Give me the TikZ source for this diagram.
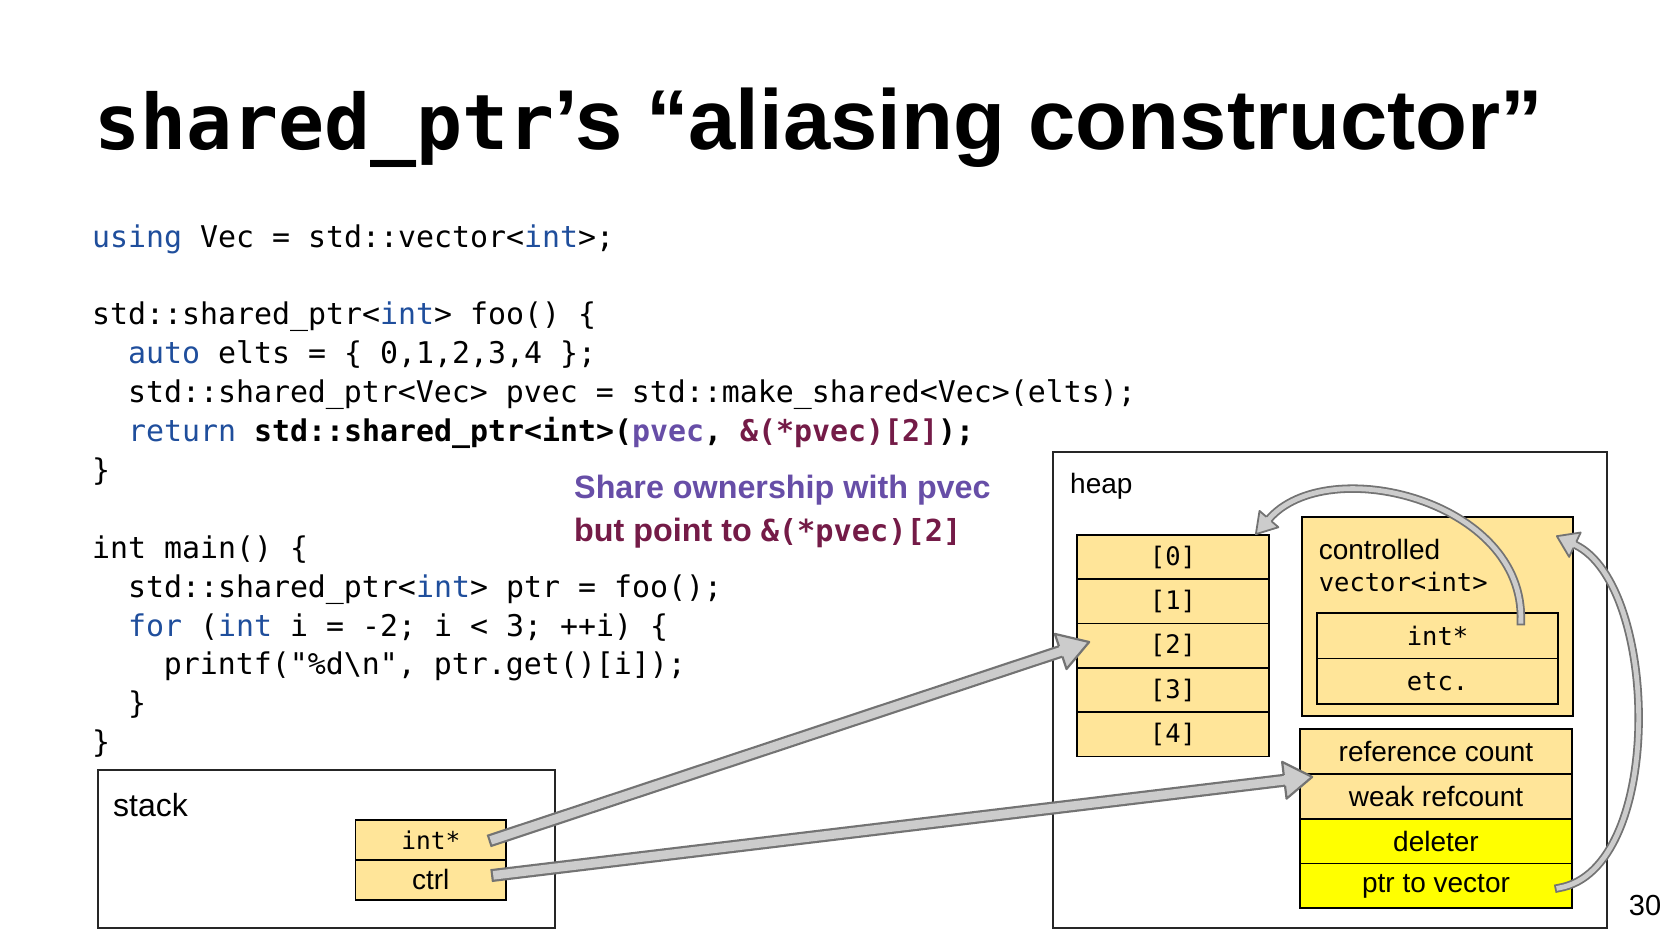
\documentclass[tikz,border=0pt]{standalone}
\usepackage{fontspec}
\setmainfont{Liberation Sans}
\newfontfamily\codefont{DejaVu Sans Mono}
\usetikzlibrary{calc}
\definecolor{kwblue}{HTML}{1F4E9C}
\definecolor{annpurple}{HTML}{674EA7}
\definecolor{annmaroon}{HTML}{741B47}
\definecolor{cellfill}{HTML}{FFE599}
\definecolor{brightyellow}{HTML}{FFFF00}
\definecolor{arrowfill}{HTML}{CCCCCC}
\definecolor{arrowedge}{HTML}{737373}
\newcommand\fsz[1]{\fontsize{#1}{#1}\selectfont}
\newcommand\kw[1]{{\color{kwblue}#1}}
\newcommand\blockhead[5]{%
  \path ($(#2)!#3!90:(#1)$) coordinate (bhWa)
        ($(#2)!#3!-90:(#1)$) coordinate (bhWb)
        ($(#2)!#4!90:(#1)$) coordinate (bhEa)
        ($(#2)!#4!-90:(#1)$) coordinate (bhEb);
  \fill[arrowfill] (bhEa) -- (bhWa) -- (#1) -- (bhWb) -- (bhEb) -- cycle;
  \draw[arrowedge, line width=#5, line join=round] (bhEa) -- (bhWa) -- (#1) -- (bhWb) -- (bhEb);
}
\begin{document}
\begin{tikzpicture}[x=1pt,y=-1pt,
  codeline/.style={anchor=base west, inner sep=0pt, font=\codefont\fsz{29.9}},
  label/.style={anchor=base west, inner sep=0pt},
  memcell/.style={draw=black, line width=1.7pt, fill=cellfill, inner sep=0pt},
  outerbox/.style={draw=black!85, line width=1.5pt},
  bigshaft/.style={draw=arrowedge, double=arrowfill, line width=2.2pt, double distance=8.6pt, line cap=rect},
  thinshaft/.style={draw=arrowedge, double=arrowfill, line width=1.8pt, double distance=4.8pt, line cap=rect}]
\useasboundingbox (0,0) rectangle (1672,938);

% title
\node[label] (title) at (94,149) {{\codefont\bfseries\fsz{76.5}shared\_ptr}{\bfseries\fsz{85}’s “aliasing constructor”}};

% code
\node[codeline] (c0) at (92,247) {\kw{using} Vec = std::vector<\kw{int}>;};
\node[codeline] (c2) at (92,324.8) {std::shared\_ptr<\kw{int}> foo() \{};
\node[codeline] (c3) at (127.8,363.7) {\kw{auto} elts = \{ 0,1,2,3,4 \};};
\node[codeline] (c4) at (127.8,402.6) {std::shared\_ptr<Vec> pvec = std::make\_shared<Vec>(elts);};
\node[codeline] (c5) at (127.8,441.5) {\kw{return} \textbf{std::shared\_ptr<int>(}{\bfseries\color{annpurple}pvec}\textbf{, }{\bfseries\color{annmaroon}\&(*pvec)[2]}\textbf{);}};
\node[codeline] (c6) at (92,480.4) {\}};
\node[codeline] (c8) at (92,558.2) {int main() \{};
\node[codeline] (c9) at (127.8,597.1) {std::shared\_ptr<\kw{int}> ptr = foo();};
\node[codeline] (c10) at (127.8,636) {\kw{for} (\kw{int} i = -2; i < 3; ++i) \{};
\node[codeline] (c11) at (163.6,674.9) {printf("\%d\textbackslash n", ptr.get()[i]);};
\node[codeline] (c12) at (127.8,713.8) {\}};
\node[codeline] (c13) at (92,752.7) {\}};

% annotation
\node[label, font=\bfseries\fsz{32.3}, text=annpurple] (ann1) at (574,498) {Share ownership with pvec};
\node[label, font=\bfseries\fsz{32.3}, text=annmaroon] (ann2) at (574,541.7) {but point to {\codefont\fsz{30.3}\&(*pvec)[2]}};

% stack
\draw[outerbox] (98,770) rectangle (555,928);
\node[label, font=\fsz{32}] (stacklbl) at (113,816.7) {stack};
\node[memcell, minimum width=150.5pt, minimum height=39.8pt] (sint) at (430.75,840) {\codefont\fsz{24.5}int*};
\node[memcell, minimum width=150.5pt, minimum height=39.8pt] (sctrl) at (430.75,879.8) {\fsz{28}ctrl};

% heap
\draw[outerbox] (1053,452) rectangle (1607,928);
\node[label, font=\fsz{28}] (heaplbl) at (1070,493) {heap};

\node[memcell, minimum width=192pt, minimum height=44.3pt] (a0) at (1173,557.15) {\codefont\fsz{25.5}[0]};
\node[memcell, minimum width=192pt, minimum height=44.3pt] (a1) at (1173,601.45) {\codefont\fsz{25.5}[1]};
\node[memcell, minimum width=192pt, minimum height=44.3pt] (a2) at (1173,645.75) {\codefont\fsz{25.5}[2]};
\node[memcell, minimum width=192pt, minimum height=44.3pt] (a3) at (1173,690.05) {\codefont\fsz{25.5}[3]};
\node[memcell, minimum width=192pt, minimum height=44.3pt] (a4) at (1173,734.35) {\codefont\fsz{25.5}[4]};

\node[memcell, minimum width=271pt, minimum height=199pt] (ctl) at (1437.5,616.5) {};
\node[label, font=\fsz{28}] (ctltxt) at (1318.6,559) {controlled};
\node[label, font=\codefont\fsz{25.5}] (ctltxt2) at (1318.6,591.7) {vector<int>};
\node[memcell, minimum width=241pt, minimum height=45.5pt] (vint) at (1437.5,635.75) {\codefont\fsz{25.5}int*};
\node[memcell, minimum width=241pt, minimum height=45.5pt] (vetc) at (1437.5,681.25) {\codefont\fsz{25.5}etc.};

\node[memcell, minimum width=272pt, minimum height=44.75pt] (cb1) at (1436,751.7) {\fsz{28}reference count};
\node[memcell, minimum width=272pt, minimum height=44.75pt] (cb2) at (1436,796.45) {\fsz{28}weak refcount};
\node[memcell, fill=brightyellow, minimum width=272pt, minimum height=44.75pt] (cb3) at (1436,841.2) {\fsz{28}deleter};
\node[memcell, fill=brightyellow, minimum width=272pt, minimum height=44.75pt] (cb4) at (1436,885.95) {\fsz{28}ptr to vector};

\node[anchor=base, inner sep=0pt, font=\fsz{29}] (pagenum) at (1645,915) {30};

% arrow 1: stack int* -> [2]
\coordinate (t1) at ($(sint.east)+(-12,-1)$);
\coordinate (p1) at ($(a2.west)+(13,-3.75)$);
\coordinate (b1) at ($(p1)!30pt!(t1)$);
\draw[bigshaft] (t1) -- (b1);
\blockhead{p1}{b1}{18.5pt}{5.4pt}{2.2pt}

% arrow 2: ctrl -> control block
\coordinate (t2) at ($(sctrl.east)+(-9.3,-5)$);
\coordinate (p2) at ($(cb2.north west)+(13,3.7)$);
\coordinate (b2) at ($(p2)!28pt!(t2)$);
\draw[bigshaft] (t2) -- (b2);
\blockhead{p2}{b2}{18.5pt}{5.4pt}{2.2pt}

% arrow 3: vector int* -> array
\coordinate (t3) at ($(vint.north east)+(-38,9)$);
\coordinate (c3a) at (1525,500);
\coordinate (c3b) at (1327,452);
\coordinate (p3) at ($(a0.north east)+(-14,0)$);
\coordinate (b3) at ($(p3)!20pt!(c3b)$);
\draw[thinshaft] (t3) .. controls (c3a) and (c3b) .. (b3);
\blockhead{p3}{b3}{12.5pt}{3.3pt}{1.8pt}

% arrow 4: ptr to vector -> controlled vector
\coordinate (t4) at ($(cb4.east)+(-14,2)$);
\coordinate (c4a) at (1665,870);
\coordinate (c4b) at (1660,585);
\coordinate (p4) at ($(ctl.north east)+(-17,20)$);
\coordinate (b4) at ($(p4)!20pt!(c4b)$);
\draw[thinshaft] (t4) .. controls (c4a) and (c4b) .. (b4);
\blockhead{p4}{b4}{13.5pt}{3.3pt}{1.8pt}
\end{tikzpicture}
\end{document}
